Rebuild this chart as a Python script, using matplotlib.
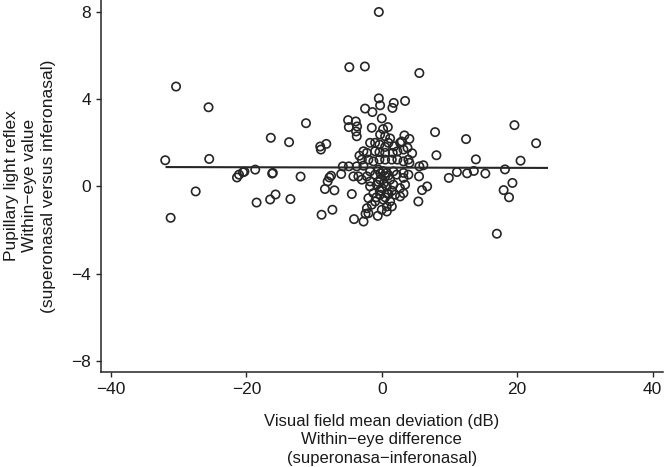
import matplotlib
matplotlib.use("Agg")
import matplotlib.pyplot as plt
import numpy as np

plt.rcParams['font.family'] = ['Liberation Sans', 'DejaVu Sans']

# Within-eye difference in visual field mean deviation (dB)
vf_diff = [
    -30.4, -25.6, -32.0, -25.5, -16.4, -13.7, -21.4, -21.1, -20.5, -20.3, -18.7, -16.2, -16.1,
    -27.5, -31.2, -18.5, -16.5, -15.7, -13.5,
    -11.2, -9.1, -9.0, -8.2, -12.0, -8.9, -7.3, -8.4, -7.0, -7.74, -7.5, -8.0, -6.0, -5.76,
    -4.87, -4.43, -4.1, -2.7, -2.4, -0.6,
    -0.44, -4.8, -2.5, 5.55, -0.44, -0.25, -2.47, -1.39, 1.77, 1.57, 3.44, 0.0, -4.98, -3.84,
    -4.87, -3.65, -3.8, -3.7, -1.48, 0.19, 0.89, -0.25, 1.23, 3.34, 4.08, 2.95, 7.87, 12.45,
    13.9, 8.07, 4.48, 4.08,
    5.4, 5.95, 6.7, 9.9, 11.1, 12.6, 13.6, 5.55, 6.14, 5.5, 19.6, 22.8, 20.5, 15.3, 18.2,
    18.0, 19.3, 18.8, 17.0,
    -1.73, -0.99, -0.35, 0.49, 0.98, 1.82, 2.7, -2.72, -2.2, -3.3, -0.99, -0.35, 0.49, 1.62,
    2.3, 3.2, 3.8, -2.95, -1.98, -1.24, -0.35, 0.49, 1.48, 2.3, 3.2, 3.93, -3.7, -2.72, -1.73,
    -0.5, 0.74, 1.71, 3.2, 0.49,
    -4.2, -3.46, -2.95, -2.2, -1.73, -0.99, -0.25, 0.49, 1.23, 2.2, 3.2, 3.93,
    -1.73, -0.74, 0.0, 0.74, 1.71, 2.7, 3.44, -1.24, -0.25, 0.74, 1.96, 3.2, -1.98,
    -0.99, 0.24, 1.23, 0.74, 1.48, 0.0, 0.74, -1.48, -2.2, -1.98, 2.7,
    -0.5, 0.3, 1.0, -0.3, 0.5, 1.5, -0.8, 0.2, 1.0, -0.2,
]

# Within-eye pupillary light reflex value
plr_value = [
    4.58, 3.63, 1.2, 1.26, 2.23, 2.03, 0.41, 0.54, 0.65, 0.68, 0.77, 0.59, 0.62,
    -0.23, -1.44, -0.74, -0.6, -0.37, -0.58,
    2.9, 1.83, 1.69, 1.95, 0.45, -1.3, -1.07, -0.12, -0.18, 0.41, 0.49, 0.23, 0.57, 0.92,
    0.92, -0.35, -1.5, -1.61, -1.26, -1.35,
    8.0, 5.47, 5.5, 5.2, 4.04, 3.72, 3.57, 3.41, 3.83, 3.6, 3.92, 3.12, 3.04, 2.98,
    2.72, 2.75, 2.52, 2.3, 2.69, 2.63, 2.72, 2.38, 2.2, 2.34, 2.18, 2.06, 2.49, 2.17,
    1.24, 1.43, 1.52, 1.08,
    -0.69, -0.17, 0.0, 0.39, 0.66, 0.6, 0.71, 0.92, 0.97, 0.46, 2.81, 1.98, 1.18, 0.59, 0.78,
    -0.17, 0.16, -0.5, -2.17,
    2.0, 2.0, 1.92, 1.81, 2.0, 1.84, 2.0, 1.61, 1.54, 1.41, 1.61, 1.57, 1.54, 1.54,
    1.61, 1.69, 1.77, 1.23, 1.23, 1.15, 1.23, 1.23, 1.23, 1.23, 1.15, 1.23, 0.92, 0.95, 0.69,
    0.77, 0.62, 0.69, 0.62, 2.3,
    0.46, 0.46, 0.31, 0.46, 0.23, 0.54, 0.31, 0.46, 0.31, 0.54, 0.39, 0.54,
    0.0, 0.08, -0.08, 0.0, 0.08, -0.08, 0.08, -0.31, -0.38, -0.31, -0.38, -0.31, -0.54,
    -0.69, -0.61, -0.69, -0.92, -0.92, -1.07, -1.15, -0.84, -1.0, -1.23, -0.46,
    0.2, 0.15, 0.5, -0.2, -0.5, -0.2, -0.5, 0.7, -0.35, 0.6,
]

# Fitted linear regression line (intercept, slope, x range)
fit_intercept = 0.865
fit_slope = -0.0007
fit_x_range = [-31.8, 24.4]

x_ticks = [-40, -20, 0, 20, 40]
y_ticks = [-8, -4, 0, 4, 8]
x_label = "Visual field mean deviation (dB)\nWithin\u2212eye difference\n(superonasa\u2212inferonasal)"
y_label = "Pupillary light reflex\nWithin\u2212eye value\n(superonasal versus inferonasal)"

fig = plt.figure(figsize=(6.64, 4.67), dpi=100)
ax = fig.add_axes([0.152, 0.204, 0.846, 0.796])

dark = '#262626'
ax.scatter(vf_diff, plr_value, s=36, facecolors='none', edgecolors=dark, linewidths=1.2, zorder=3)

fx = np.array(fit_x_range)
ax.plot(fx, fit_intercept + fit_slope * fx, color=dark, lw=1.5, zorder=2)

ax.set_xlim(-41.5, 41.5)
ax.set_ylim(-8.5, 8.55)
ax.set_xticks(x_ticks)
ax.set_yticks(y_ticks)
ax.set_xticklabels([str(t).replace('-', '\u2212') for t in x_ticks])
ax.set_yticklabels([str(t).replace('-', '\u2212') for t in y_ticks])

for s in ['top', 'right']:
    ax.spines[s].set_visible(False)
for s in ['left', 'bottom']:
    ax.spines[s].set_color(dark)
    ax.spines[s].set_linewidth(1.1)

ax.tick_params(axis='both', direction='out', length=3.8, width=1.0, color=dark,
               labelsize=12.5, labelcolor='#1a1a1a', pad=3.5)

ax.set_xlabel(x_label, fontsize=12, color='#1a1a1a', linespacing=1.3, labelpad=12)
ax.set_ylabel(y_label, fontsize=12.5, color='#1a1a1a', linespacing=1.28, labelpad=11)

fig.savefig("out.png", dpi=100, facecolor='white')
